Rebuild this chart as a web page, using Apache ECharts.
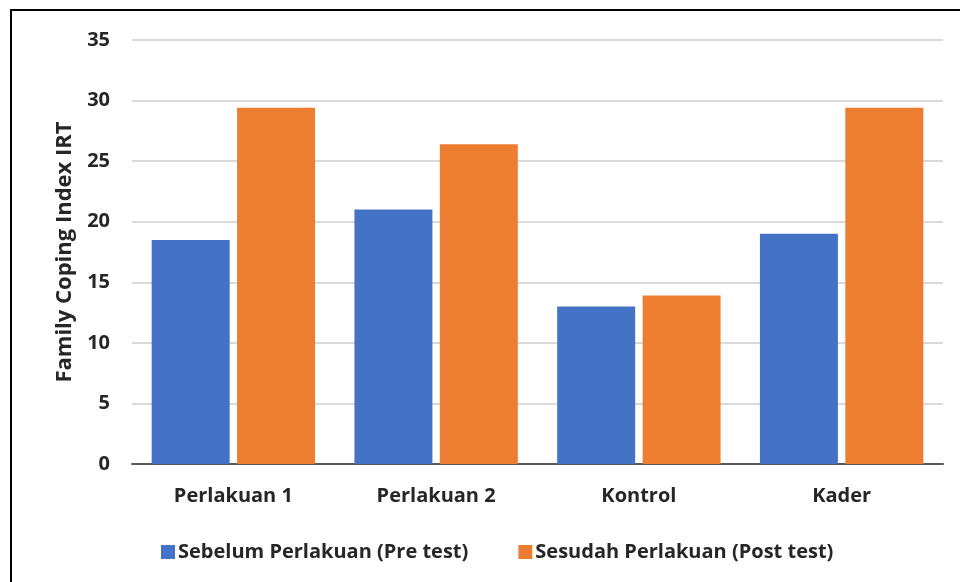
<!DOCTYPE html>
<html>
<head>
<meta charset="utf-8">
<script src="https://cdn.jsdelivr.net/npm/echarts@6/dist/echarts.min.js"></script>
<style>
  html, body { margin: 0; padding: 0; background: #fff; }
  #chart { width: 960px; height: 582px; }
</style>
</head>
<body>
<div id="chart"></div>
<script>
// Family Coping Index IRT, before and after treatment, per group
const categories = ['Perlakuan 1', 'Perlakuan 2', 'Kontrol', 'Kader'];
const preTest = [18.5, 21.0, 13.0, 19.0];
const postTest = [29.4, 26.4, 13.9, 29.4];
const seriesNames = ['Sebelum Perlakuan (Pre test)', 'Sesudah Perlakuan (Post test)'];
const yTicks = [0, 5, 10, 15, 20, 25, 30, 35];

const FONT = '"Open Sans", Lato, sans-serif';
const TEXT = '#262626';
const FS = 20;

const chart = echarts.init(document.getElementById('chart'), null, { renderer: 'canvas' });

chart.setOption({
  animation: false,
  backgroundColor: '#ffffff',
  color: ['#4472c4', '#ed7d31'],
  textStyle: { fontFamily: FONT },
  grid: { left: 132, right: 17, top: 40, bottom: 118, containLabel: false },
  // frame edges along the left and top of the figure
  graphic: [
    { type: 'line', shape: { x1: 11, y1: 10, x2: 11, y2: 582 }, style: { stroke: '#000', lineWidth: 2 } },
    { type: 'line', shape: { x1: 10, y1: 10, x2: 960, y2: 10 }, style: { stroke: '#000', lineWidth: 2 } }
  ],
  legend: {
    data: seriesNames,
    left: 156,
    top: 537,
    itemWidth: 14,
    itemHeight: 14,
    itemGap: 50,
    icon: 'rect',
    textStyle: { fontFamily: FONT, fontSize: FS, fontWeight: 'bold', color: TEXT, padding: [0, 0, 0, -2] }
  },
  xAxis: {
    type: 'category',
    data: categories,
    axisLine: { lineStyle: { color: '#595959', width: 2 } },
    axisTick: { show: false },
    axisLabel: { fontFamily: FONT, fontSize: FS, fontWeight: 'bold', color: TEXT, margin: 22 }
  },
  yAxis: {
    type: 'value',
    min: yTicks[0],
    max: yTicks[yTicks.length - 1],
    interval: 5,
    name: 'Family Coping Index IRT',
    nameLocation: 'middle',
    nameGap: 56,
    nameTextStyle: { fontFamily: FONT, fontSize: 22, fontWeight: 'bold', color: TEXT },
    axisLine: { show: false },
    axisTick: { show: false },
    axisLabel: { fontFamily: FONT, fontSize: FS, fontWeight: 'bold', color: TEXT, margin: 22 },
    splitLine: { lineStyle: { color: '#d9d9d9', width: 2 } }
  },
  series: [
    {
      name: seriesNames[0],
      type: 'bar',
      data: preTest,
      barWidth: 78,
      barGap: '9.5%'
    },
    {
      name: seriesNames[1],
      type: 'bar',
      data: postTest,
      barWidth: 78,
      barGap: '9.5%'
    }
  ]
});
</script>
</body>
</html>
